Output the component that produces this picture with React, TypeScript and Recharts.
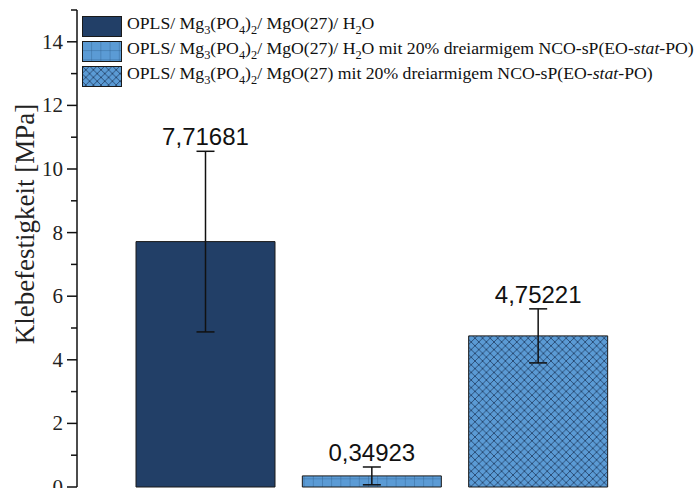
import React from 'react';
import {
  BarChart, Bar, XAxis, YAxis, Cell, ErrorBar, LabelList, Legend, Label,
} from 'recharts';

const samples = ['H2O', 'H2O + sP', 'sP'];
const strength = [7.71681, 0.34923, 4.75221];
const deviation = [2.84, 0.28, 0.85];
const yTicks = [0, 1, 2, 3, 4, 5, 6, 7, 8, 9, 10, 11, 12, 13, 14, 15];

const fills = ['#223f67', 'url(#gridFill)', 'url(#crossFill)'];

const data = samples.map((name, i) => ({
  name,
  value: strength[i],
  err: deviation[i],
}));

const serif = '"Liberation Serif", "Times New Roman", serif';
const sans = '"Liberation Sans", Arial, sans-serif';

const Base = () => (
  <>
    Mg<sub style={{ fontSize: '0.7em' }}>3</sub>(PO<sub style={{ fontSize: '0.7em' }}>4</sub>)
    <sub style={{ fontSize: '0.7em' }}>2</sub>/ MgO(27)
  </>
);
const Water = () => (
  <>H<sub style={{ fontSize: '0.7em' }}>2</sub>O</>
);
const Star = () => (
  <>dreiarmigem NCO-sP(EO-<i>stat</i>-PO)</>
);

const legendRows = [
  <>OPLS/ <Base />/ <Water /></>,
  <>OPLS/ <Base />/ <Water /> mit 20% <Star /></>,
  <>OPLS/ <Base /> mit 20% <Star /></>,
];

const LegendBox = () => (
  <div style={{ fontFamily: serif, fontSize: 17.7, color: '#111', lineHeight: '25px' }}>
    {legendRows.map((row, i) => (
      <div key={`leg-${i}`} style={{ display: 'flex', alignItems: 'center', height: 25 }}>
        <svg width={41} height={22} style={{ marginRight: 4, flex: 'none' }}>
          <rect x={0.5} y={0.5} width={39} height={20} fill={i === 0 ? fills[0] : '#5b9bd5'} stroke="#1a1a1a" />
          {i > 0 && <rect x={0.5} y={0.5} width={39} height={20} fill={fills[i]} stroke="#1a1a1a" />}
        </svg>
        <span style={{ whiteSpace: 'nowrap' }}>{row}</span>
      </div>
    ))}
  </div>
);

const AxisTick = ({ x, y, payload }: { x?: number; y?: number; payload?: { value: number } }) => {
  const v = payload?.value ?? 0;
  const major = v % 2 === 0 && v < 15;
  return (
    <g>
      <line x1={x} x2={(x ?? 0) - (major ? 10 : 6)} y1={y} y2={y} stroke="#111" strokeWidth={1.5} />
      {major && (
        <text x={(x ?? 0) - 14} y={(y ?? 0) + 7} textAnchor="end" fontFamily={serif} fontSize={21} fill="#222">
          {v}
        </text>
      )}
    </g>
  );
};

const ValueLabel = (props: any) => {
  const { x, y, width, height, value, index } = props;
  const perUnit = height / value;
  const top = y - deviation[index] * perUnit;
  return (
    <text x={x + width / 2} y={top - 6} textAnchor="middle" fontFamily={sans} fontSize={24} fill="#111">
      {value.toFixed(5).replace('.', ',')}
    </text>
  );
};

export default function App() {
  return (
    <div style={{ position: 'absolute', top: 0, left: 0, width: 695, height: 488, overflow: 'hidden', background: '#fff' }}>
      <BarChart width={695} height={520} data={data} margin={{ top: 10, right: 29, left: 0, bottom: 33 }}>
        <defs>
          <pattern id="gridFill" width={9.2} height={9.2} patternUnits="userSpaceOnUse">
            <rect width={9.2} height={9.2} fill="#5b9bd5" />
            <path d="M0 0 H9.2 M0 0 V9.2" stroke="#2f5f8f" strokeWidth={0.8} />
          </pattern>
          <pattern id="crossFill" width={7.6} height={7.6} patternUnits="userSpaceOnUse">
            <rect width={7.6} height={7.6} fill="#5b9bd5" />
            <path d="M0 0 L7.6 7.6 M7.6 0 L0 7.6" stroke="#1f3c60" strokeWidth={0.8} />
          </pattern>
        </defs>
        <XAxis
          dataKey="name"
          height={0}
          tick={false}
          tickLine={false}
          axisLine={{ stroke: '#111', strokeWidth: 1.5 }}
          padding={{ left: 45, right: 45 }}
        />
        <YAxis
          width={77}
          domain={[0, 15]}
          ticks={yTicks}
          interval={0}
          tickSize={0}
          tickMargin={0}
          tickLine={false}
          tick={<AxisTick />}
          axisLine={{ stroke: '#111', strokeWidth: 1.5 }}
        >
          <Label
            content={() => (
              <text
                x={0}
                y={0}
                transform="translate(34 224) rotate(-90)"
                textAnchor="middle"
                fontFamily={serif}
                fontSize={27}
                fill="#222"
              >
                Klebefestigkeit [MPa]
              </text>
            )}
          />
        </YAxis>
        {/* middle/center keeps the legend from reserving plot space */}
        <Legend
          verticalAlign="middle"
          align="center"
          wrapperStyle={{ top: 14, left: 82, width: 'auto' }}
          content={<LegendBox />}
        />
        <Bar dataKey="value" barSize={139} stroke="#1a1a1a" strokeWidth={1} isAnimationActive={false}>
          {data.map((d, i) => (
            <Cell key={`cell-${d.name}`} fill={fills[i]} />
          ))}
          <ErrorBar dataKey="err" width={9} stroke="#111" strokeWidth={1.5} />
          <LabelList dataKey="value" content={<ValueLabel />} />
        </Bar>
      </BarChart>
    </div>
  );
}
